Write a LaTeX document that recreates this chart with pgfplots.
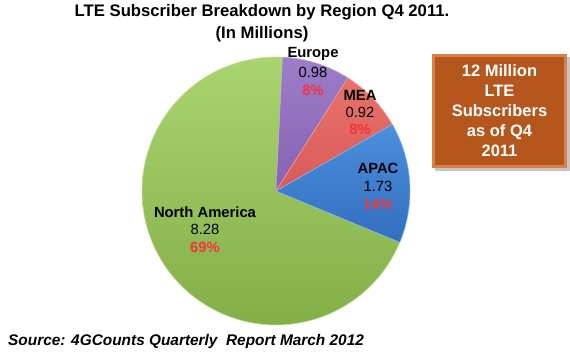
\documentclass[border=0pt]{standalone}
\usepackage{pgfplots}
\usepackage{pgfplotstable}
\pgfplotsset{compat=1.18}
\usepackage{fontspec}
\setmainfont{Liberation Sans}
\definecolor{naG1}{HTML}{AAD470}
\definecolor{naG2}{HTML}{84AE46}
\definecolor{euP1}{HTML}{9C7DC8}
\definecolor{euP2}{HTML}{8762B2}
\definecolor{meR1}{HTML}{E8726C}
\definecolor{meR2}{HTML}{D95A56}
\definecolor{apB1}{HTML}{4A8FDD}
\definecolor{apB2}{HTML}{336FBE}
\definecolor{pctred}{HTML}{F5333A}
\definecolor{boxfill}{HTML}{B5561C}
\definecolor{boxedge}{HTML}{D98048}
\pgfplotstableread{
region value pct
Europe 0.98 8
MEA 0.92 8
APAC 1.73 14
NorthAmerica 8.28 69
}\pietable
\begin{document}
\begin{tikzpicture}
\pgfplotstablegetelem{0}{value}\of\pietable \let\va\pgfplotsretval
\pgfplotstablegetelem{1}{value}\of\pietable \let\vb\pgfplotsretval
\pgfplotstablegetelem{2}{value}\of\pietable \let\vc\pgfplotsretval
\pgfplotstablegetelem{3}{value}\of\pietable \let\vd\pgfplotsretval
\pgfmathsetmacro\tot{\va+\vb+\vc+\vd}
\pgfmathsetmacro\aA{87.2}
\pgfmathsetmacro\aB{\aA-360*\va/\tot}
\pgfmathsetmacro\aC{\aB-360*\vb/\tot}
\pgfmathsetmacro\aD{\aC-360*\vc/\tot}
\pgfmathsetmacro\aE{\aD-360*\vd/\tot}
\path[use as bounding box] (0,0) rectangle (570bp,354bp);
\begin{axis}[at={(0,0)}, anchor=south west, x=1bp, y=1bp,
  xmin=0, xmax=570, ymin=0, ymax=354, hide axis, scale only axis, clip=false]
% slices
\addplot[draw=naG1!70!white, line width=0.6pt, top color=naG1, bottom color=naG2, domain=\aE:\aD, samples=120]
  ({276+134*cos(x)},{163+134*sin(x)}) -- (axis cs:276,163) -- cycle;
\addplot[draw=euP1!70!white, line width=0.6pt, top color=euP1, bottom color=euP2, domain=\aB:\aA, samples=30]
  ({276+134*cos(x)},{163+134*sin(x)}) -- (axis cs:276,163) -- cycle;
\addplot[draw=meR1!70!white, line width=0.6pt, top color=meR1, bottom color=meR2, domain=\aC:\aB, samples=30]
  ({276+134*cos(x)},{163+134*sin(x)}) -- (axis cs:276,163) -- cycle;
\addplot[draw=apB1!70!white, line width=0.6pt, top color=apB1, bottom color=apB2, domain=\aD:\aC, samples=40]
  ({276+134*cos(x)},{163+134*sin(x)}) -- (axis cs:276,163) -- cycle;
% labels
\tikzset{lab/.style={font=\fontsize{14.8bp}{17bp}\selectfont\bfseries, text=black, inner sep=0pt, anchor=center},
         num/.style={font=\fontsize{14.8bp}{17bp}\selectfont, text=black, inner sep=0pt, anchor=center},
         pc/.style={font=\fontsize{14.8bp}{17bp}\selectfont\bfseries, text=pctred, inner sep=0pt, anchor=center}}
\node[lab] at (axis cs:313,300) {Europe};
\node[num] at (axis cs:313,282) {0.98};
\node[pc]  at (axis cs:313,264) {8\%};
\node[lab] at (axis cs:360,259) {MEA};
\node[num] at (axis cs:360,242) {0.92};
\node[pc]  at (axis cs:360,225) {8\%};
\node[lab] at (axis cs:378,186) {APAC};
\node[num] at (axis cs:378,168) {1.73};
\node[pc]  at (axis cs:378,150) {14\%};
\node[lab] at (axis cs:205,142) {North America};
\node[num] at (axis cs:205,125) {8.28};
\node[pc]  at (axis cs:205,107) {69\%};
% title
\node[font=\fontsize{16.7bp}{22bp}\selectfont\bfseries, align=center, inner sep=0pt, anchor=north] at (axis cs:262,350) {LTE Subscriber Breakdown by Region Q4 2011.\\(In Millions)};
% box
\fill[black!45, opacity=0.5] (axis cs:435,183) rectangle (axis cs:570,297);
\fill[boxedge] (axis cs:432,186) rectangle (axis cs:567,300);
\fill[boxfill] (axis cs:435,189) rectangle (axis cs:564,297);
\node[font=\fontsize{16.5bp}{20bp}\selectfont\bfseries, text=white, align=center, inner sep=0pt, anchor=center] at (axis cs:499.5,243) {12 Million\\LTE\\Subscribers\\as of Q4\\2011};
% source
\node[font=\fontsize{15.4bp}{18bp}\selectfont\bfseries\itshape, anchor=west, inner sep=0pt] at (axis cs:8,12) {Source: 4GCounts Quarterly\ \ Report March 2012};
\end{axis}
\end{tikzpicture}
\end{document}
